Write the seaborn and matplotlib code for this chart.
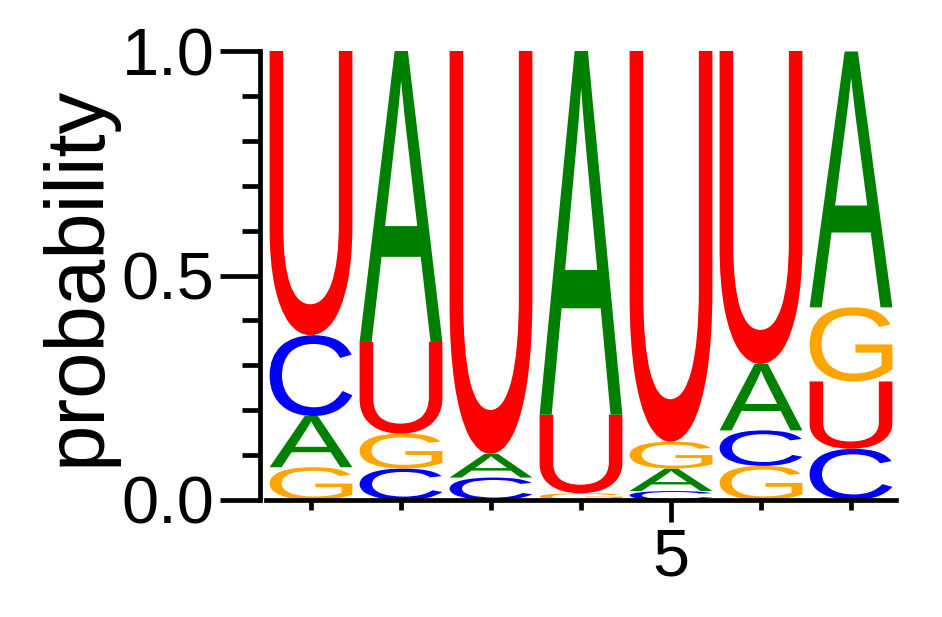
import numpy as np
import pandas as pd
import matplotlib
matplotlib.use("Agg")
import matplotlib.pyplot as plt
import seaborn as sns
from matplotlib.textpath import TextPath
from matplotlib.patches import PathPatch
from matplotlib.font_manager import FontProperties
from matplotlib.transforms import Affine2D
from matplotlib.ticker import FixedLocator, MultipleLocator

# position-wise probabilities
positions = [1, 2, 3, 4, 5, 6, 7]
prob_A = [0.114, 0.648, 0.053, 0.810, 0.050, 0.148, 0.570]
prob_C = [0.180, 0.070, 0.050, 0.000, 0.020, 0.079, 0.114]
prob_G = [0.073, 0.078, 0.000, 0.015, 0.060, 0.076, 0.165]
prob_U = [0.635, 0.204, 0.897, 0.175, 0.870, 0.697, 0.150]

df = pd.DataFrame({"A": prob_A, "C": prob_C, "G": prob_G, "U": prob_U}, index=positions)
colors = {"A": "green", "C": "blue", "G": "orange", "U": "red"}

sns.set_style("ticks")
plt.rcParams["font.family"] = ["Liberation Sans", "DejaVu Sans"]

glyph_font = FontProperties(family="Liberation Sans")


def draw_letter(ax, ch, x, y, w, h, color):
    tp = TextPath((0, 0), ch, size=1, prop=glyph_font)
    bb = tp.get_extents()
    t = (Affine2D().translate(-bb.x0, -bb.y0)
         .scale(w / bb.width, h / bb.height)
         .translate(x - w / 2, y))
    ax.add_patch(PathPatch(t.transform_path(tp), facecolor=color,
                           edgecolor="none", transform=ax.transData))


fig = plt.figure(figsize=(9.42, 6.17), dpi=100)
ax = fig.add_axes([266 / 942, 1 - 500 / 617, 630 / 942, 449 / 617])

width = 0.92
for pos, row in df.iterrows():
    floor = 0.0
    for ch, val in row.sort_values().items():
        if val > 0:
            draw_letter(ax, ch, pos, floor, width, val, colors[ch])
        floor += val

ax.set_xlim(0.5, 7.5)
ax.set_ylim(0, 1)
ax.xaxis.set_major_locator(FixedLocator([5]))
ax.xaxis.set_minor_locator(FixedLocator([1, 2, 3, 4, 6, 7]))
ax.yaxis.set_major_locator(FixedLocator([0, 0.5, 1.0]))
ax.yaxis.set_minor_locator(MultipleLocator(0.1))
ax.set_yticklabels(["0.0", "0.5", "1.0"])

ax.tick_params(axis="both", which="both", width=3.4, color="black",
               labelsize=48, labelcolor="black", pad=4)
ax.tick_params(axis="y", which="major", length=29)
ax.tick_params(axis="y", which="minor", length=13)
ax.tick_params(axis="x", which="major", length=16)
ax.tick_params(axis="x", which="minor", length=7)

sns.despine(ax=ax)
for side in ["left", "bottom"]:
    ax.spines[side].set_linewidth(3.4)
    ax.spines[side].set_color("black")
ax.spines["left"].set_position(("outward", 4))

ax.set_ylabel("probability", fontsize=60, color="black", labelpad=4)

fig.savefig("out.png", dpi=100)
